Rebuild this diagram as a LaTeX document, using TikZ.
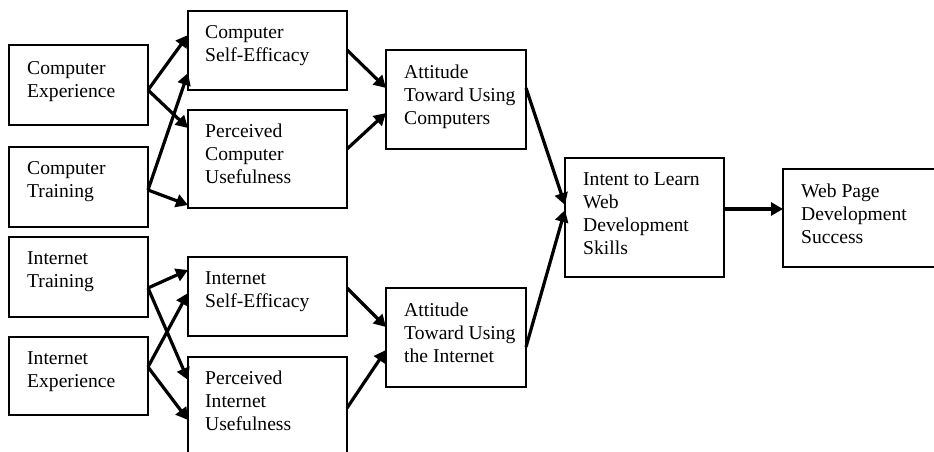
\documentclass[tikz,border=0pt]{standalone}
\usepackage{fontspec}
\setmainfont{Liberation Serif}
\usetikzlibrary{arrows.meta,calc}
\begin{document}
\begin{tikzpicture}[x=1pt,y=-1pt,
  box/.style={draw, line width=2pt, inner sep=0pt, outer sep=0pt, anchor=north west},
  lbl/.style={anchor=north west, inner sep=0pt, align=left, font=\fontsize{19.6}{23}\selectfont},
  arr/.style={line width=3.2pt, -{Triangle[length=12pt,width=13pt]}}]
\useasboundingbox (0,0) rectangle (934,452);
% boxes
\node[box, minimum width=139pt, minimum height=80pt] (ce) at (9,45) {};
\node[box, minimum width=139pt, minimum height=80pt] (ct) at (9,147) {};
\node[box, minimum width=139pt, minimum height=80pt] (it) at (9,237) {};
\node[box, minimum width=139pt, minimum height=78pt] (ie) at (9,337) {};
\node[box, minimum width=159pt, minimum height=79pt] (cse) at (188,11) {};
\node[box, minimum width=159pt, minimum height=98pt] (pcu) at (188,110) {};
\node[box, minimum width=159pt, minimum height=79pt] (ise) at (188,257) {};
\node[box, minimum width=159pt, minimum height=110pt] (piu) at (188,357) {};
\node[box, minimum width=140pt, minimum height=99pt] (atc) at (386,50) {};
\node[box, minimum width=140pt, minimum height=99pt] (ati) at (386,288) {};
\node[box, minimum width=159pt, minimum height=119pt] (intent) at (565,158) {};
\node[box, minimum width=160pt, minimum height=98pt] (wp) at (783,169) {};
% texts
\node[lbl] (ceT) at ($(ce.north west)+(18,14)$) {\rule{0pt}{15pt}Computer\\Experience};
\node[lbl] (ctT) at ($(ct.north west)+(18,12)$) {\rule{0pt}{15pt}Computer\\Training};
\node[lbl] (itT) at ($(it.north west)+(18,12)$) {\rule{0pt}{15pt}Internet\\Training};
\node[lbl] (ieT) at ($(ie.north west)+(18,12)$) {\rule{0pt}{15pt}Internet\\Experience};
\node[lbl] (cseT) at ($(cse.north west)+(17,12)$) {\rule{0pt}{15pt}Computer\\Self-Efficacy};
\node[lbl] (pcuT) at ($(pcu.north west)+(17,12)$) {\rule{0pt}{15pt}Perceived\\Computer\\Usefulness};
\node[lbl] (iseT) at ($(ise.north west)+(17,12)$) {\rule{0pt}{15pt}Internet\\Self-Efficacy};
\node[lbl] (piuT) at ($(piu.north west)+(17,12)$) {\rule{0pt}{15pt}Perceived\\Internet\\Usefulness};
\node[lbl] (atcT) at ($(atc.north west)+(18,13)$) {\rule{0pt}{15pt}Attitude\\Toward Using\\Computers};
\node[lbl] (atiT) at ($(ati.north west)+(18,13)$) {\rule{0pt}{15pt}Attitude\\Toward Using\\the Internet};
\node[lbl] (intentT) at ($(intent.north west)+(18,12)$) {\rule{0pt}{15pt}Intent to Learn\\Web\\Development\\Skills};
\node[lbl] (wpT) at ($(wp.north west)+(18,13)$) {\rule{0pt}{15pt}Web Page\\Development\\Success};
% arrows
\draw[arr] ($(ce.north east)+(0,45)$) -- ($(cse.north west)+(0,24)$);
\draw[arr] ($(ce.north east)+(0,45)$) -- ($(pcu.north west)+(0,18)$);
\draw[arr] ($(ct.north east)+(0,43)$) -- ($(cse.north west)+(0,62)$);
\draw[arr] ($(ct.north east)+(0,43)$) -- ($(pcu.north west)+(0,95)$);
\draw[arr] ($(cse.north east)+(0,39)$) -- ($(atc.north west)+(0,38)$);
\draw[arr] ($(pcu.north east)+(0,39)$) -- ($(atc.north west)+(0,63)$);
\draw[arr] ($(atc.north east)+(0,38)$) -- ($(intent.north west)+(0,47)$);
\draw[arr] ($(ati.north east)+(0,59)$) -- ($(intent.north west)+(0,52)$);
\draw[arr] ($(intent.north east)+(0,51)$) -- ($(wp.north west)+(0,40)$);
\draw[arr] ($(it.north east)+(0,51)$) -- ($(ise.north west)+(0,13)$);
\draw[arr] ($(it.north east)+(0,51)$) -- ($(piu.north west)+(0,23)$);
\draw[arr] ($(ie.north east)+(0,30)$) -- ($(ise.north west)+(0,36)$);
\draw[arr] ($(ie.north east)+(0,30)$) -- ($(piu.north west)+(0,63)$);
\draw[arr] ($(ise.north east)+(0,31)$) -- ($(ati.north west)+(0,39)$);
\draw[arr] ($(piu.north east)+(0,51)$) -- ($(ati.north west)+(0,62)$);
\end{tikzpicture}
\end{document}
